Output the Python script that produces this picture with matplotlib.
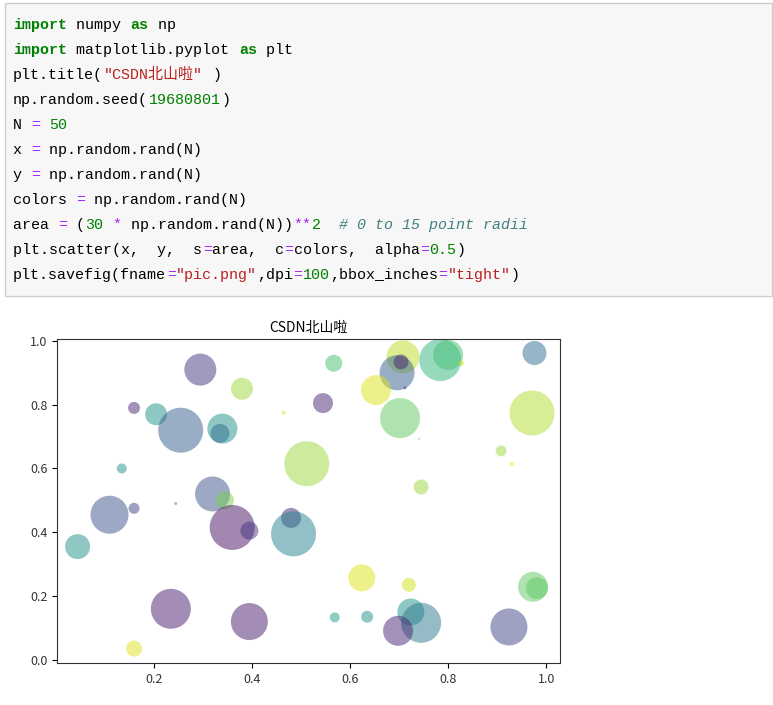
import matplotlib.pyplot as plt
from matplotlib.patches import Rectangle

# scatter points
xs = [0.295, 0.38, 0.16, 0.205, 0.255, 0.34, 0.335, 0.465, 0.135, 0.512,
      0.32, 0.345, 0.245, 0.11, 0.16, 0.36, 0.395, 0.48, 0.485, 0.045,
      0.235, 0.395, 0.16, 0.567, 0.708, 0.696, 0.704, 0.712, 0.784, 0.80,
      0.826, 0.976, 0.653, 0.545, 0.702, 0.971, 0.908, 0.93, 0.745, 0.624,
      0.72, 0.973, 0.981, 0.724, 0.745, 0.698, 0.569, 0.635, 0.924, 0.741]
ys = [0.91, 0.85, 0.79, 0.77, 0.72, 0.725, 0.71, 0.775, 0.60, 0.615,
      0.52, 0.50, 0.49, 0.455, 0.475, 0.415, 0.405, 0.445, 0.395, 0.355,
      0.16, 0.12, 0.035, 0.93, 0.95, 0.90, 0.934, 0.853, 0.94, 0.956,
      0.93, 0.962, 0.846, 0.805, 0.758, 0.774, 0.655, 0.614, 0.542, 0.257,
      0.235, 0.229, 0.225, 0.15, 0.116, 0.091, 0.133, 0.135, 0.103, 0.693]
# marker diameters in pixels at 100 dpi
diam = [32, 22, 12, 22, 45, 30, 19, 4, 10, 45,
        35, 18, 3, 38, 11, 45, 18, 20, 45, 25,
        40, 37, 16, 17, 33, 35, 15, 3, 42, 30,
        6, 24, 30, 20, 40, 45, 11, 4, 15, 27,
        14, 30, 22, 27, 40, 30, 10, 12, 37, 2]
colors = [0.15, 0.85, 0.1, 0.5, 0.3, 0.5, 0.35, 0.95, 0.5, 0.85,
          0.25, 0.8, 0.5, 0.25, 0.2, 0.05, 0.15, 0.1, 0.45, 0.5,
          0.08, 0.08, 0.95, 0.7, 0.9, 0.3, 0.1, 0.1, 0.65, 0.7,
          0.9, 0.35, 0.95, 0.1, 0.75, 0.88, 0.85, 0.95, 0.85, 0.95,
          0.93, 0.75, 0.75, 0.5, 0.4, 0.1, 0.55, 0.5, 0.2, 0.7]
area = [(d * 0.72) ** 2 for d in diam]

KW, NUM, OP, STR, COM, TXT = '#008000', '#008000', '#aa22ff', '#ba2121', '#408080', '#000000'
code_lines = [
    [("import", KW), (" numpy ", TXT), ("as", KW), (" np", TXT)],
    [("import", KW), (" matplotlib.pyplot ", TXT), ("as", KW), (" plt", TXT)],
    [("plt.title(", TXT), ('"CSDN北山啦"', STR), (")", TXT)],
    [("np.random.seed(", TXT), ("19680801", NUM), (")", TXT)],
    [("N ", TXT), ("=", OP), (" ", TXT), ("50", NUM)],
    [("x ", TXT), ("=", OP), (" np.random.rand(N)", TXT)],
    [("y ", TXT), ("=", OP), (" np.random.rand(N)", TXT)],
    [("colors ", TXT), ("=", OP), (" np.random.rand(N)", TXT)],
    [("area ", TXT), ("=", OP), (" (", TXT), ("30", NUM), (" ", TXT), ("*", OP),
     (" np.random.rand(N))", TXT), ("**", OP), ("2", NUM), ("  ", TXT),
     ("# 0 to 15 point radii", COM)],
    [("plt.scatter(x,  y,  s", TXT), ("=", OP), ("area,  c", TXT), ("=", OP),
     ("colors,  alpha", TXT), ("=", OP), ("0.5", NUM), (")", TXT)],
    [("plt.savefig(fname", TXT), ("=", OP), ('"pic.png"', STR), (",dpi", TXT), ("=", OP),
     ("100", NUM), (",bbox_inches", TXT), ("=", OP), ('"tight"', STR), (")", TXT)],
]

W, H = 773, 705
fig = plt.figure(figsize=(W / 100, H / 100), dpi=100)

# code cell box
fig.patches.append(Rectangle((5 / W, 1 - 296 / H), 767 / W, 293 / H, transform=fig.transFigure,
                             facecolor='#f7f7f7', edgecolor='#cfcfcf', lw=1))
char_w = 9.05
mono = ['Liberation Mono', 'Noto Sans CJK SC']
for i, line in enumerate(code_lines):
    y = 25 + 25 * i
    col = 0
    for tok, c in line:
        fig.text((13 + col * char_w) / W, 1 - y / H, tok, color=c, family=mono, fontsize=10.8,
                 va='center', ha='left',
                 fontweight='bold' if (c == KW and tok.strip() in ('import', 'as')) else 'normal',
                 fontstyle='italic' if c == COM else 'normal')
        col += sum(2 if ord(ch) > 0x2e80 else 1 for ch in tok)

ax = fig.add_axes([57 / W, 1 - 663 / H, 503 / W, 324 / H])
ax.scatter(xs, ys, s=area, c=colors, cmap='viridis', vmin=0, vmax=1, alpha=0.5, linewidths=0)
ax.set_xlim(0.003, 1.028)
ax.set_ylim(-0.01, 1.006)
ax.set_xticks([0.2, 0.4, 0.6, 0.8, 1.0])
ax.set_yticks([0.0, 0.2, 0.4, 0.6, 0.8, 1.0])
lab = ['Noto Sans CJK SC', 'DejaVu Sans']
for t in ax.get_xticklabels() + ax.get_yticklabels():
    t.set_family(lab)
    t.set_fontsize(9)
    t.set_color('#333333')
ax.set_title("CSDN北山啦", family=lab, fontsize=10, pad=5)
for s in ax.spines.values():
    s.set_color('#333333')

fig.savefig('out.png', dpi=100)
